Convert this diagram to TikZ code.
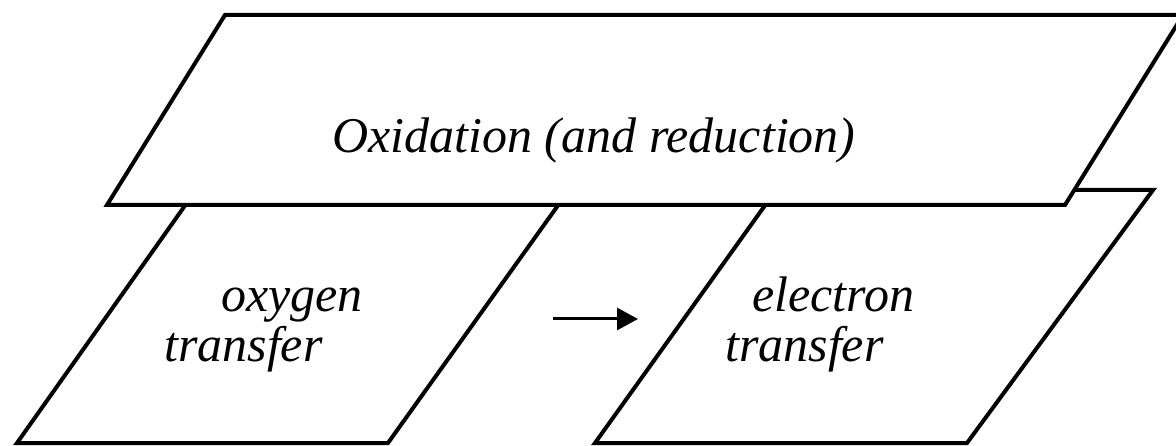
\documentclass[tikz,border=0pt]{standalone}
\usepackage{fontspec}
\setmainfont{Liberation Serif}
\usepackage{tikz}
\usetikzlibrary{arrows.meta}

\tikzset{
  panel/.style={draw=black, fill=white, line width=4pt, line join=miter},
  label/.style={font=\fontsize{50}{58}\selectfont\itshape, inner sep=0pt}
}

\begin{document}
\begin{tikzpicture}[x=1pt, y=-1pt]

% Drawing window
\useasboundingbox (0,0) rectangle (1176,446);
\clip (0,0) rectangle (1176,446);

% Lower panels
\draw[panel] (196,190) -- (569,190) -- (388,443) -- (17,443) -- cycle;
\draw[panel] (776,190) -- (1153,190) -- (967,443) -- (595,443) -- cycle;

% Top panel
\draw[panel] (225,15) -- (1183,15) -- (1065,205) -- (107,205) -- cycle;

% Texts
\node[label] (ox) at (594,140) {Oxidation (and reduction)};
\node[label, anchor=base west] (oxy1) at (221,312) {oxygen};
\node[label, anchor=base west] (oxy2) at (164,362) {transfer};
\node[label, anchor=base west] (ele1) at (752,312) {electron};
\node[label, anchor=base west] (ele2) at (725,362) {transfer};

% Arrow
\coordinate (arrS) at (553,319);
\coordinate (arrE) at (638,319);
\draw[line width=3pt, -{Triangle[length=21pt, width=22pt]}] (arrS) -- (arrE);

\end{tikzpicture}
\end{document}
